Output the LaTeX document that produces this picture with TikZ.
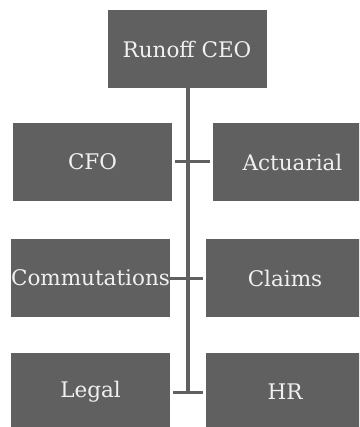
\documentclass[tikz,border=0pt]{standalone}
\usepackage{fontspec}
\setmainfont{DejaVu Serif}
\usepackage{tikz}
\usetikzlibrary{positioning}
\definecolor{boxgray}{RGB}{96, 96, 96}
\definecolor{boxtext}{RGB}{240, 240, 240}

\begin{document}
\begin{tikzpicture}[x=1pt, y=-1pt,
    orgbox/.style={fill=boxgray, text=boxtext, minimum width=159pt, minimum height=78pt,
      inner sep=0pt, font=\fontsize{21.5}{26}\selectfont},
    link/.style={draw=boxgray, line width=3pt}]
  \useasboundingbox (0,0) rectangle (359,427);
  \clip (0,0) rectangle (359,427);

  % Top box and the six boxes under it
  \node[orgbox] (ceo) at (187, 49.5) {Runoff CEO};
  \node[orgbox] (cfo) at (92.5, 162) {CFO};
  \node[orgbox] (act) at (292.5, 162) {Actuarial};
  \node[orgbox] (com) at (90.5, 278) {Commutations};
  \node[orgbox] (clm) at (285, 278) {Claims};
  \node[orgbox] (leg) at (90.5, 392) {Legal};
  \node[orgbox] (hr) at (285, 392) {HR};

  % Trunk and cross bars
  \coordinate (end) at (188, 393);
  \draw[link, line width=4.5pt] ([yshift=3pt]ceo.south -| end) -- (end);
  \draw[link] ([xshift=3pt]cfo.east) -- ([xshift=-3pt]act.west);
  \draw[link] (com.east) -- ([xshift=-2pt]clm.west);
  \draw[link] ([xshift=3pt]leg.east) -- ([xshift=-2pt]hr.west);
\end{tikzpicture}
\end{document}
